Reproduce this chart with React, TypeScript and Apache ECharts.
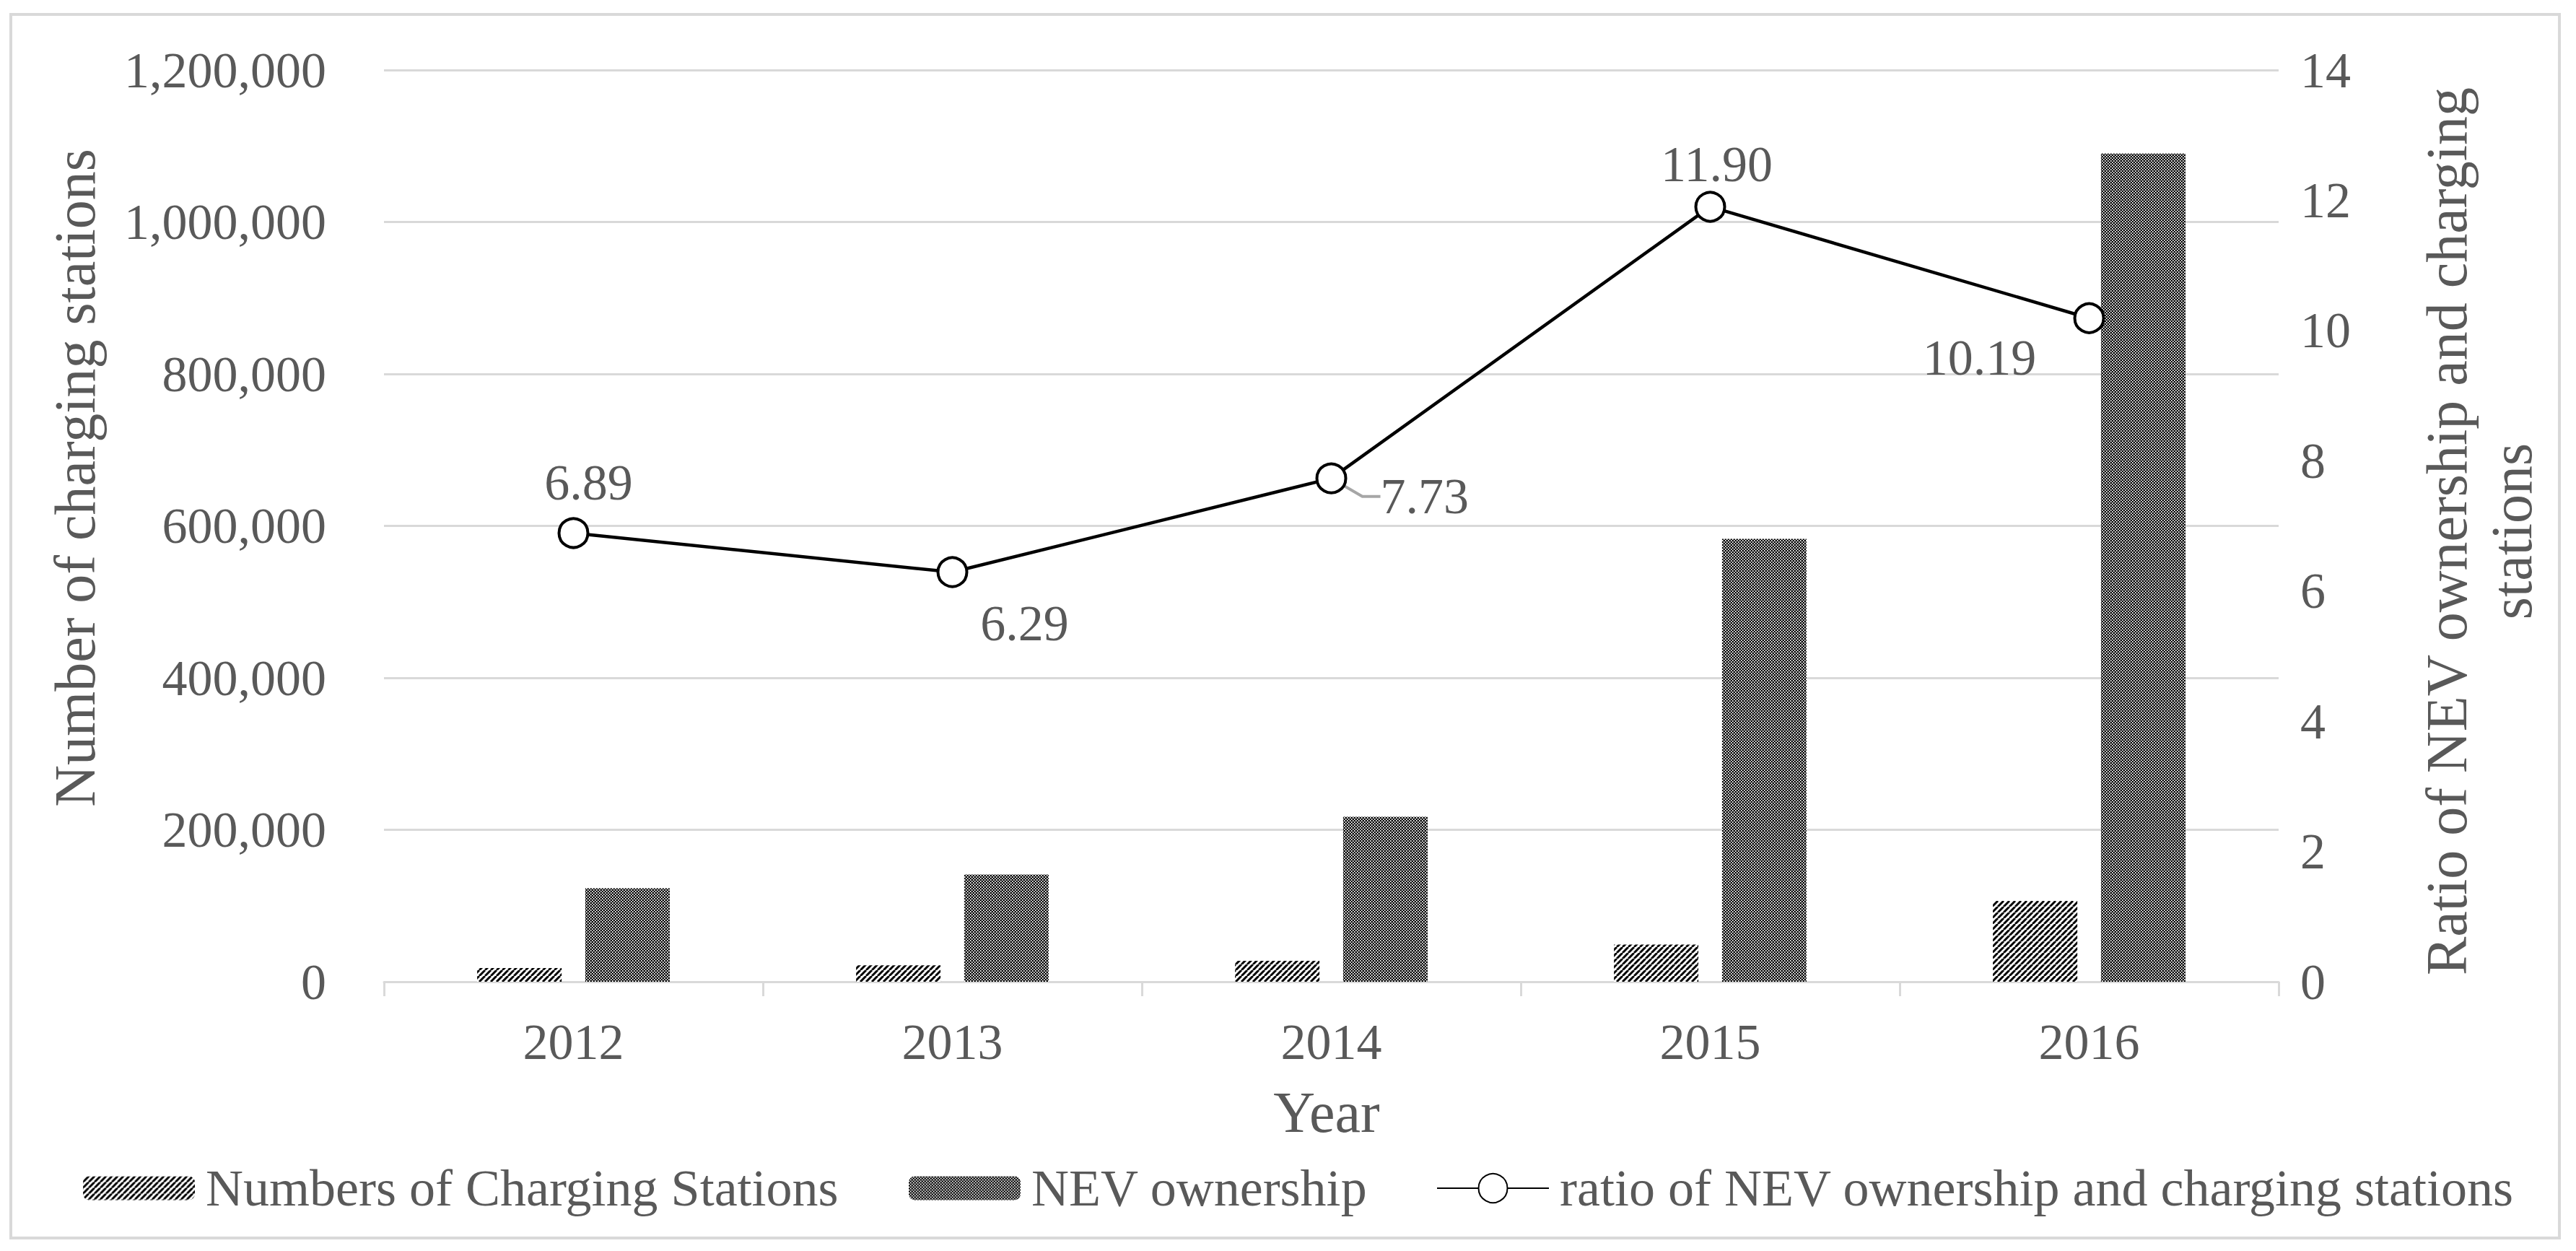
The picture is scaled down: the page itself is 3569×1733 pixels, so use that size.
import React, { useEffect, useRef } from 'react';
import * as echarts from 'echarts';

// ---- data ----
const years = ['2012', '2013', '2014', '2015', '2016'];
const chargingStations = [18000, 21500, 27500, 49000, 106500];
const nevOwnership = [123000, 141000, 217000, 583000, 1090000];
const ratio = [6.89, 6.29, 7.73, 11.9, 10.19];
const leftAxisMax = 1200000;
const leftAxisInterval = 200000;
const rightAxisMax = 14;
const rightAxisInterval = 2;

const seriesNames = [
  'Numbers of Charging Stations',
  'NEV ownership',
  'ratio of NEV ownership and charging stations',
];

// label placement (style only)
const labelOffsets = [
  [21, -70],
  [100, 71],
  [14, -10],
  [9, -59],
  [-152, 55],
];
const labelPositions = ['inside', 'inside', 'right', 'inside', 'inside'];

const FONT = '"Times New Roman", "Liberation Serif", serif';
const TEXT = '#595959';
const GRID = '#d9d9d9';

function makeStripePattern() {
  const c = document.createElement('canvas');
  c.width = 8;
  c.height = 8;
  const ctx = c.getContext('2d')!;
  ctx.fillStyle = '#fff';
  ctx.fillRect(0, 0, 8, 8);
  ctx.strokeStyle = '#000';
  ctx.lineWidth = 3;
  ctx.beginPath();
  for (let a = -8; a <= 24; a += 8) {
    ctx.moveTo(a - 8, 8);
    ctx.lineTo(a, 0);
  }
  ctx.stroke();
  return { image: c, repeat: 'repeat', imageWidth: 8, imageHeight: 8 };
}

function makeCheckPattern() {
  const c = document.createElement('canvas');
  c.width = 4;
  c.height = 4;
  const ctx = c.getContext('2d')!;
  ctx.fillStyle = '#fff';
  ctx.fillRect(0, 0, 4, 4);
  ctx.fillStyle = '#000';
  ctx.fillRect(0, 0, 2, 2);
  ctx.fillRect(2, 2, 2, 2);
  ctx.fillStyle = '#7f7f7f';
  ctx.fillRect(3, 0, 1, 2);
  ctx.fillRect(1, 2, 1, 2);
  return { image: c, repeat: 'repeat', imageWidth: 4, imageHeight: 4 };
}

export default function App() {
  const ref = useRef<HTMLDivElement>(null);

  useEffect(() => {
    if (!ref.current) return;
    const chart = echarts.init(ref.current, undefined, { renderer: 'svg' });
    const stripe = makeStripePattern();
    const check = makeCheckPattern();

    const legendText = { fontFamily: FONT, fontSize: 72, color: TEXT, padding: [0, 0, 0, 10] };

    const option: any = {
      animation: false,
      backgroundColor: '#ffffff',
      textStyle: { fontFamily: FONT },
      grid: { left: 532, right: 412, top: 97, bottom: 373, containLabel: false, outerBoundsMode: 'none' },
      legend: [
        {
          data: [seriesNames[0]], left: 115, top: 1610, padding: 0,
          itemWidth: 155, itemHeight: 33, textStyle: legendText, selectedMode: false,
        },
        {
          data: [seriesNames[1]], left: 1259, top: 1610, padding: 0,
          itemWidth: 155, itemHeight: 33, textStyle: legendText, selectedMode: false,
        },
        {
          data: [seriesNames[2]], left: 1990, top: 1610, padding: 0,
          itemWidth: 155, itemHeight: 50, textStyle: legendText, selectedMode: false,
        },
      ],
      xAxis: {
        type: 'category',
        data: years,
        boundaryGap: true,
        axisLine: { show: true, lineStyle: { color: GRID, width: 3 } },
        axisTick: { show: true, length: 20, lineStyle: { color: GRID, width: 3 } },
        axisLabel: { margin: 48, fontSize: 70, color: TEXT, fontFamily: FONT },
        splitLine: { show: false },
      },
      yAxis: [
        {
          type: 'value',
          min: 0,
          max: leftAxisMax,
          interval: leftAxisInterval,
          axisLine: { show: false },
          axisTick: { show: false },
          axisLabel: {
            margin: 80, fontSize: 70, color: TEXT, fontFamily: FONT,
            formatter: (v: number) => v.toLocaleString('en-US'),
          },
          splitLine: { show: true, lineStyle: { color: GRID, width: 3 } },
        },
        {
          type: 'value',
          min: 0,
          max: rightAxisMax,
          interval: rightAxisInterval,
          position: 'right',
          axisLine: { show: false },
          axisTick: { show: false },
          axisLabel: { margin: 30, fontSize: 70, color: TEXT, fontFamily: FONT },
          splitLine: { show: false },
        },
      ],
      series: [
        {
          name: seriesNames[0],
          type: 'bar',
          data: chargingStations,
          barWidth: 117,
          barGap: '28%',
          itemStyle: { color: stripe },
        },
        {
          name: seriesNames[1],
          type: 'bar',
          data: nevOwnership,
          barWidth: 117,
          barGap: '28%',
          itemStyle: { color: check },
        },
        {
          name: seriesNames[2],
          type: 'line',
          yAxisIndex: 1,
          data: ratio.map((v, i) => ({
            value: v,
            label:
              i === 2
                ? {
                    position: labelPositions[i],
                    offset: labelOffsets[i],
                    padding: [0, 0, 0, 27],
                    align: 'left',
                    verticalAlign: 'top',
                  }
                : { position: labelPositions[i], offset: labelOffsets[i] },
            ...(i === 2
              ? { labelLine: { show: true, length2: 25, lineStyle: { color: '#a6a6a6', width: 4 } } }
              : {}),
          })),
          symbol: 'circle',
          symbolSize: 40,
          itemStyle: { color: '#ffffff', borderColor: '#000000', borderWidth: 4 },
          lineStyle: { color: '#000000', width: 4.5 },
          label: {
            show: true,
            position: 'inside',
            fontSize: 70,
            fontFamily: FONT,
            color: TEXT,
            formatter: (p: any) => Number(p.value).toFixed(2),
          },
          z: 5,
        },
      ],
      graphic: [
        {
          type: 'rect',
          silent: true,
          z: -10,
          shape: { x: 15, y: 20, width: 3531, height: 1695 },
          style: { fill: 'none', stroke: GRID, lineWidth: 4 },
        },
        {
          type: 'text',
          x: 104,
          y: 662,
          rotation: Math.PI / 2,
          style: {
            text: 'Number of charging stations',
            fontSize: 80, fontFamily: FONT, fill: TEXT,
            align: 'center', verticalAlign: 'middle',
            textAlign: 'center', textVerticalAlign: 'middle',
          },
        },
        {
          type: 'text',
          x: 3435,
          y: 736,
          rotation: Math.PI / 2,
          style: {
            text: 'Ratio of NEV ownership and charging\nstations',
            fontSize: 80, lineHeight: 90, fontFamily: FONT, fill: TEXT,
            align: 'center', verticalAlign: 'middle',
            textAlign: 'center', textVerticalAlign: 'middle',
          },
        },
        {
          type: 'text',
          x: 1838,
          y: 1541,
          style: {
            text: 'Year',
            fontSize: 80, fontFamily: FONT, fill: TEXT,
            align: 'center', verticalAlign: 'middle',
            textAlign: 'center', textVerticalAlign: 'middle',
          },
        },
      ],
    };

    chart.setOption(option);
    return () => chart.dispose();
  }, []);

  return (
    <div
      ref={ref}
      style={{ position: 'fixed', left: 0, top: 0, width: '3569px', height: '1733px', background: '#fff' }}
    />
  );
}
